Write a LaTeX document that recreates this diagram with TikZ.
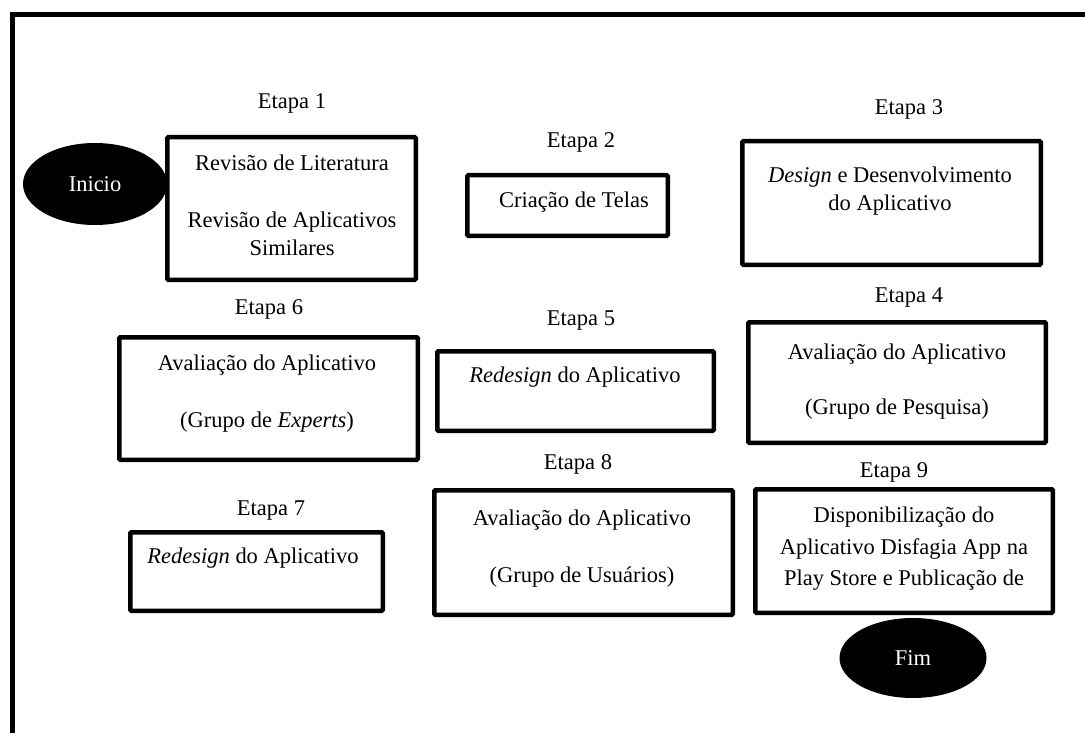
\documentclass[tikz,border=0pt]{standalone}
\usepackage{fontspec}
\setmainfont{Liberation Serif}
\usetikzlibrary{shapes.geometric}
\begin{document}
\begin{tikzpicture}[x=1pt,y=-1pt,
  stepbox/.style={draw=black, line width=4.5pt, rounded corners=1pt, inner sep=0pt},
  lbl/.style={inner sep=0pt, text height=15pt, text depth=0pt, font=\fontsize{22.5}{27}\selectfont},
  terminal/.style={ellipse, fill=black, inner sep=0pt, text=white, text height=15pt, text depth=0pt, font=\fontsize{22.5}{27}\selectfont}]
\useasboundingbox (0,0) rectangle (1085,733);

% outer frame (open to the right and bottom)
\draw[line width=5pt] (12,740) -- (12,15) -- (1090,15);

% start and end
\node[terminal, minimum width=144pt, minimum height=82pt] (inicio) at (95,184) {Inicio};
\node[terminal, minimum width=147pt, minimum height=80pt] (fim) at (913,658) {Fim};

% step boxes
\node[stepbox, minimum width=248.5pt, minimum height=142.5pt] (b1) at (291.5,208.5) {};
\node[stepbox, minimum width=200.5pt, minimum height=60.5pt]  (b2) at (567.5,205.5) {};
\node[stepbox, minimum width=298.5pt, minimum height=123.5pt] (b3) at (891.5,203) {};
\node[stepbox, minimum width=297.5pt, minimum height=120.5pt] (b4) at (897,382.5) {};
\node[stepbox, minimum width=276.5pt, minimum height=79.5pt]  (b5) at (575.5,391) {};
\node[stepbox, minimum width=298.5pt, minimum height=122.5pt] (b6) at (268.5,398.5) {};
\node[stepbox, minimum width=252.5pt, minimum height=78.5pt]  (b7) at (256.5,571.5) {};
\node[stepbox, minimum width=298.5pt, minimum height=124.5pt] (b8) at (583.5,552.5) {};
\node[stepbox, minimum width=297.5pt, minimum height=123.5pt] (b9) at (904,551) {};

% step titles
\node[lbl] (e1) at (292,101) {Etapa 1};
\node[lbl] (e2) at (581,140) {Etapa 2};
\node[lbl] (e3) at (909,107) {Etapa 3};
\node[lbl] (e4) at (909,295) {Etapa 4};
\node[lbl] (e5) at (581,318) {Etapa 5};
\node[lbl] (e6) at (269,307) {Etapa 6};
\node[lbl] (e7) at (271,508) {Etapa 7};
\node[lbl] (e8) at (578,462) {Etapa 8};
\node[lbl] (e9) at (894,470) {Etapa 9};

% box contents
\node[lbl] (t1a) at (292,163) {Revisão de Literatura};
\node[lbl] (t1b) at (292,220) {Revisão de Aplicativos};
\node[lbl] (t1c) at (292,248) {Similares};

\node[lbl] (t2) at (574,200) {Criação de Telas};

\node[lbl] (t3a) at (890,175) {\textit{Design} e Desenvolvimento};
\node[lbl] (t3b) at (890,203) {do Aplicativo};

\node[lbl] (t4a) at (897,352) {Avaliação do Aplicativo};
\node[lbl] (t4b) at (897,407) {(Grupo de Pesquisa)};

\node[lbl] (t5) at (575,375) {\textit{Redesign} do Aplicativo};

\node[lbl] (t6a) at (267,363) {Avaliação do Aplicativo};
\node[lbl] (t6b) at (267,420) {(Grupo de \textit{Experts})};

\node[lbl] (t7) at (253,556) {\textit{Redesign} do Aplicativo};

\node[lbl] (t8a) at (582,518) {Avaliação do Aplicativo};
\node[lbl] (t8b) at (582,575) {(Grupo de Usuários)};

\node[lbl] (t9a) at (904,515) {Disponibilização do};
\node[lbl] (t9b) at (904,547) {Aplicativo Disfagia App na};
\node[lbl] (t9c) at (904,578) {Play Store e Publicação de};
% last line runs past the text area and is cut off
\begin{scope}
  \clip (756,490) rectangle (1052,604);
  \node[lbl] (t9d) at (904,613) {Artigos};
\end{scope}
\end{tikzpicture}
\end{document}
